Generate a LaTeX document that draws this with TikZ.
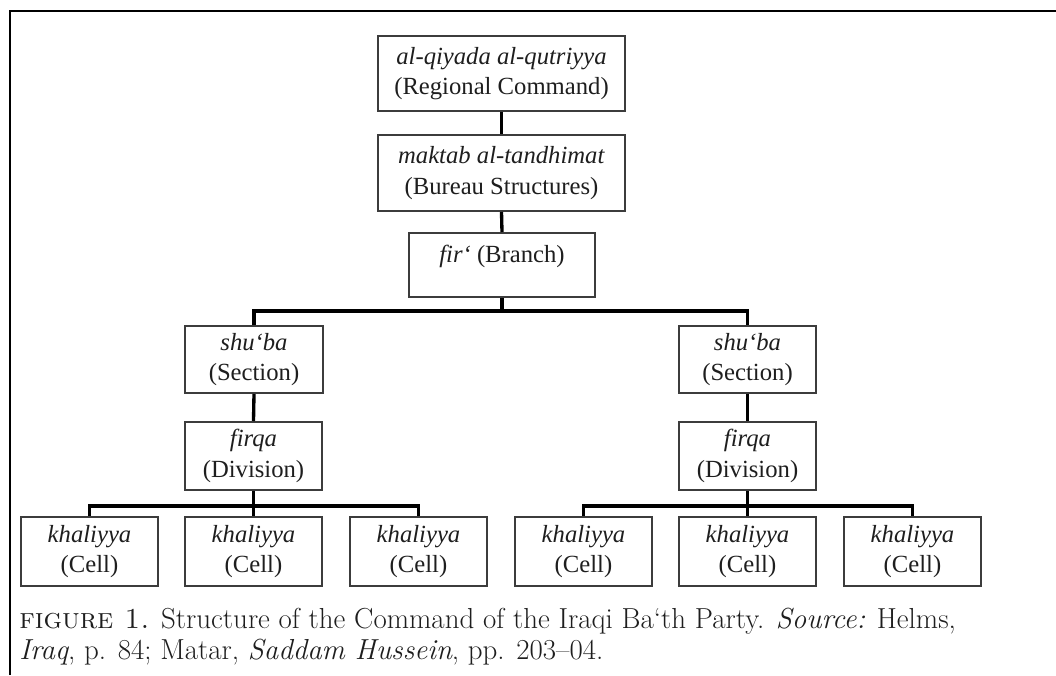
\documentclass[tikz,border=0pt]{standalone}
\usepackage{fontspec}
\newfontfamily\boxfont{Liberation Serif}
\definecolor{boxgray}{HTML}{3C3C3C}
\definecolor{textcol}{HTML}{1E1E1E}
\begin{document}
\begin{tikzpicture}[x=0.75pt,y=-0.75pt,
  box/.style={draw=boxgray, line width=1.5pt, rectangle, inner sep=0pt,
    font=\boxfont\fontsize{18.5}{23}\selectfont, align=center, text=textcol},
  boxtext/.style={inner sep=0pt, font=\boxfont\fontsize{18.5}{23}\selectfont, text=textcol},
  conn/.style={line width=2.5pt, black, line join=miter},
  captext/.style={inner sep=0pt, anchor=base west, text=textcol, font=\fontsize{21.7}{23}\selectfont},
  frame/.style={line width=2pt, black}
]
\useasboundingbox (0,0) rectangle (1056,675);
% frame
\coordinate (fbl) at (10,675);
\coordinate (ftl) at (10,11);
\coordinate (ftr) at (1056,11);
\draw[frame] (fbl) -- (ftl) -- (ftr);

% boxes
\node[box, minimum width=247*0.75pt, minimum height=75*0.75pt] (top) at (501.5,73.5)
  {\textit{al-qiyada al-qutriyya}\\(Regional Command)};
\node[box, minimum width=247*0.75pt, minimum height=76*0.75pt] (bur) at (501.5,173)
  {\textit{maktab al-tandhimat}\\(Bureau Structures)};
\node[box, minimum width=186*0.75pt, minimum height=64*0.75pt] (branch) at (502,265) {};
\node[boxtext, anchor=base] (branchtxt) at (502,262) {\textit{fir‘} (Branch)};

\node[box, minimum width=138*0.75pt, minimum height=67*0.75pt] (secL) at (254,359.5)
  {\textit{shu‘ba}\\(Section)};
\node[box, minimum width=137*0.75pt, minimum height=67*0.75pt] (secR) at (747.5,359.5)
  {\textit{shu‘ba}\\(Section)};
\node[box, minimum width=137*0.75pt, minimum height=68*0.75pt] (divL) at (253.5,456)
  {\textit{firqa}\\(Division)};
\node[box, minimum width=137*0.75pt, minimum height=68*0.75pt] (divR) at (747.5,456)
  {\textit{firqa}\\(Division)};

\foreach \n/\cx in {cL1/89.5, cL2/253.5, cL3/418.5, cR1/583.5, cR2/747.5, cR3/912.5}{
  \node[box, minimum width=137*0.75pt, minimum height=69*0.75pt] (\n) at (\cx,551.5)
    {\textit{khaliyya}\\(Cell)};
}

% connectors
\draw[conn] (top.south) -- (bur.north);
\draw[conn] (bur.south) -- (branch.north);
\draw[conn] (branch.south) -- ++(0,13) coordinate (busA);
\draw[conn] (secL.north) |- (busA) -| (secR.north);
\draw[conn] (secL.south) -- (divL.north);
\draw[conn] (secR.south) -- (divR.north);
\draw[conn] (divL.south) -- ++(0,15) coordinate (busL);
\draw[conn] (cL1.north) |- (busL) -| (cL3.north);
\draw[conn] (busL) -- (cL2.north);
\draw[conn] (divR.south) -- ++(0,15) coordinate (busR);
\draw[conn] (cR1.north) |- (busR) -| (cR3.north);
\draw[conn] (busR) -- (cR2.north);

% caption
\node[captext] (cap1) at (19,628)
  {\textsc{figure 1.} Structure of the Command of the Iraqi Ba‘th Party. \textit{Source:} Helms,};
\node[captext] (cap2) at (19,659)
  {\textit{Iraq}, p. 84; Matar, \textit{Saddam Hussein}, pp. 203–04.};
\end{tikzpicture}
\end{document}
